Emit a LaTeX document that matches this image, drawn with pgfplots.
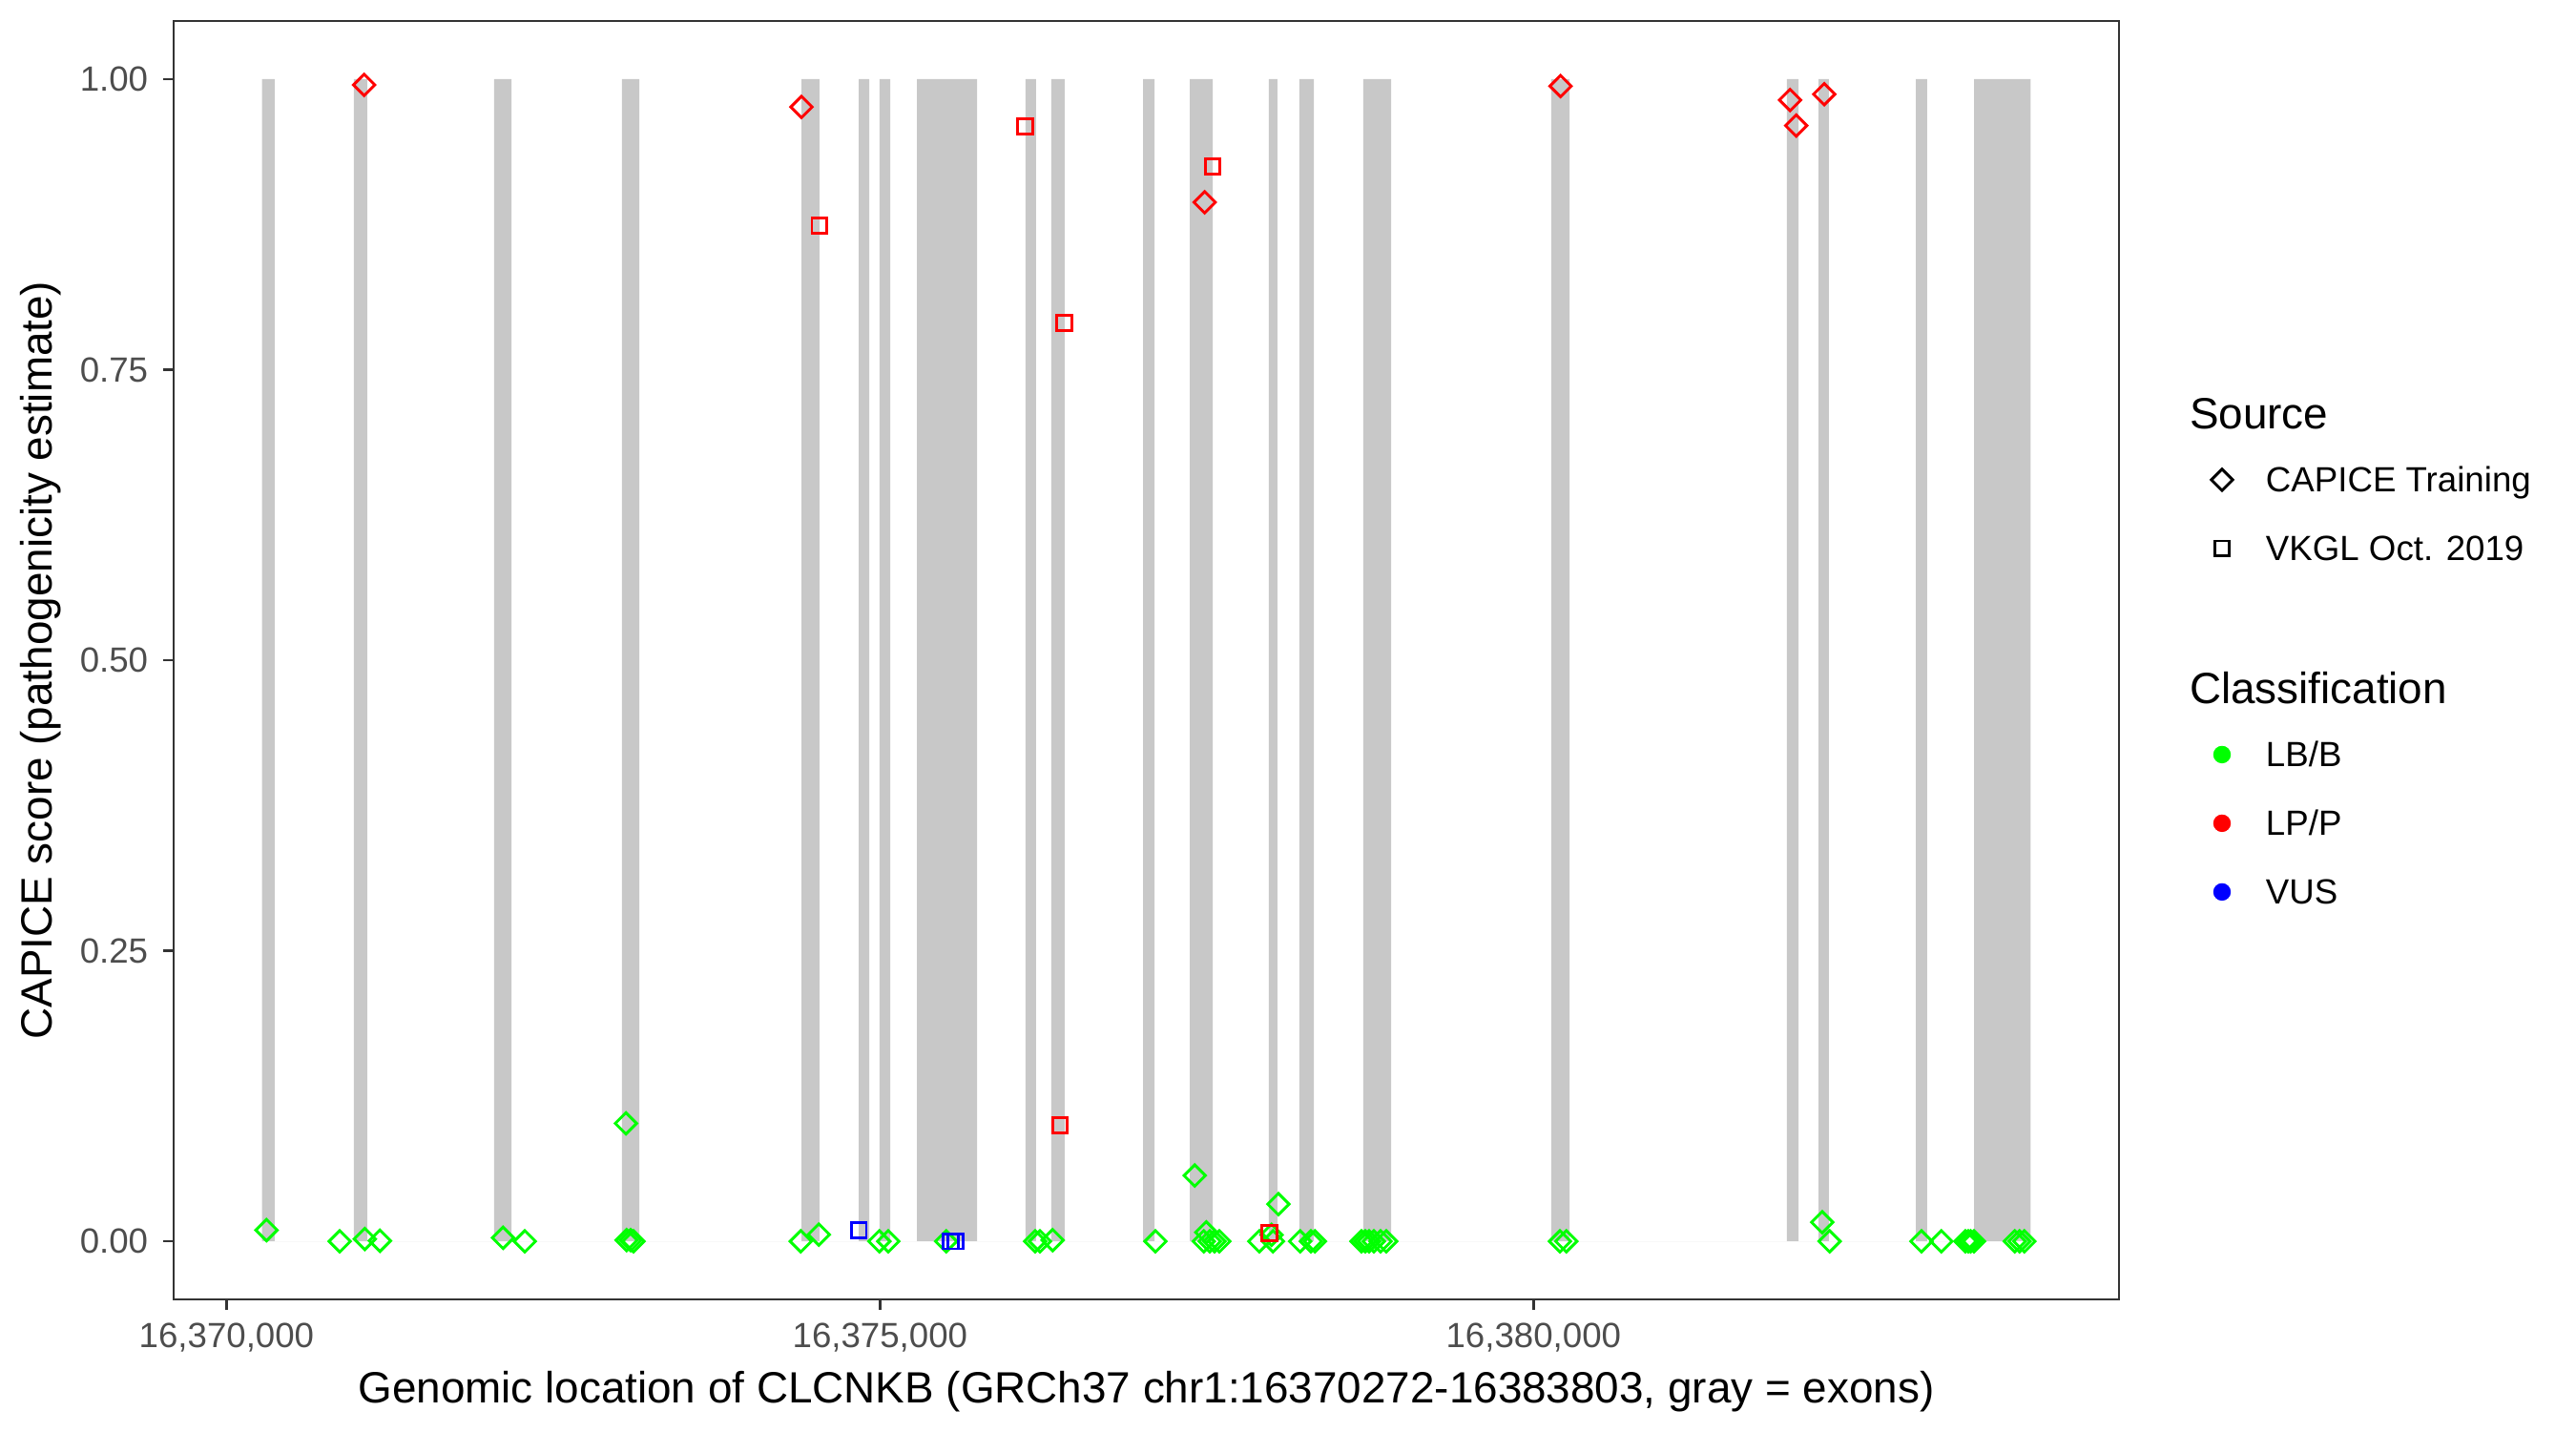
\documentclass[border=0pt]{standalone}
\usepackage{fontspec}
\setmainfont{Liberation Sans}
\usepackage{pgfplots}
\pgfplotsset{compat=1.18}
\usepackage{pgfplotstable}

\definecolor{exon}{RGB}{200,200,200}
\definecolor{lbb}{RGB}{0,255,0}
\definecolor{lpp}{RGB}{255,0,0}
\definecolor{vus}{RGB}{0,0,255}
\definecolor{gray20}{RGB}{51,51,51}
\definecolor{gray30}{RGB}{77,77,77}

% x = genomic position minus 16,370,000
% exons as a step function: 1 from exon start, 0 from exon end
\pgfplotstableread{
x y
272 1
369 0
975 1
1077 0
2048 1
2180 0
3026 1
3158 0
4399 1
4537 0
4837 1
4917 0
4997 1
5078 0
5282 1
5742 0
6114 1
6194 0
6311 1
6413 0
7012 1
7100 0
7370 1
7545 0
7975 1
8041 0
8209 1
8319 0
8698 1
8910 0
10136 1
10275 0
11939 1
12027 0
12180 1
12260 0
12925 1
13012 0
13370 1
13803 0
}\exons

% CAPICE training, LB/B
\pgfplotstableread{
x y
306 0.0096
866 0
1058 0.002
1174 0.0005
2116 0.003
2282 0
3056 0.1015
3061 0.001
3092 0.001
3114 0
4394 0
4532 0.0058
4995 0
5063 0
5506 0
6187 0
6224 0
6321 0.001
7107 0
7408 0.0566
7496 0.0077
7477 0
7523 0
7559 0
7596 0
7902 0
7995 0.0055
8007 0
8048 0.032
8214 0
8297 0
8328 0
8684 0
8713 0
8742 0
8778 0
8830 0
8873 0
10202 0
10251 0
12209 0.0164
12265 0
12968 0
13120 0
13304 0
13326 0
13344 0
13370 0
13682 0
13718 0
13755 0
}\capicelbb

% CAPICE training, LP/P
\pgfplotstableread{
x y
1053 0.995
4399 0.976
7484 0.894
10207 0.994
11963 0.982
12010 0.960
12224 0.987
}\capicelpp

% VKGL Oct. 2019, LP/P
\pgfplotstableread{
x y
4537 0.874
6109 0.959
6377 0.100
6411 0.790
7545 0.925
7981 0.0069
}\vkgllpp

% VKGL Oct. 2019, VUS
\pgfplotstableread{
x y
4837 0.0093
5542 0
5579 0
}\vkglvus

\pgfplotsset{
  diam/.style={mark=square, mark size=1.9pt, mark options={rotate=45, line width=0.7pt, fill=none}},
  sqr/.style={mark=square, mark size=1.9pt, mark options={line width=0.7pt, fill=none}},
  keydiam/.style={legend image code/.code={\path[draw=none, fill=none] (-6pt,-6pt) rectangle (6pt,11.28pt);
    \draw[black, line width=0.7pt, mark=square, mark size=1.9pt, mark options={rotate=45}] plot coordinates {(0pt,3.1pt)};}},
  keysqr/.style={legend image code/.code={\path[draw=none, fill=none] (-6pt,-6pt) rectangle (6pt,11.28pt);
    \draw[black, line width=0.7pt, mark=square, mark size=1.9pt] plot coordinates {(0pt,3.1pt)};}},
  keydot/.style={legend image code/.code={\path[draw=none, fill=none] (-6pt,-6pt) rectangle (6pt,11.28pt);
    \draw[#1, line width=0.2pt, mark=*, mark size=2.1pt] plot coordinates {(0pt,3.1pt)};}},
}

\begin{document}
\begin{tikzpicture}
\useasboundingbox (-43.68pt,-33.12pt) rectangle (604.32pt,326.88pt);
\begin{axis}[
  at={(0pt,0pt)}, anchor=south west,
  width=489.36pt, height=321.6pt, scale only axis,
  xmin=-404.5, xmax=14479.5, ymin=-0.05, ymax=1.05,
  axis line style={gray20, line width=0.65pt},
  tick align=outside, xtick pos=bottom, ytick pos=left,
  major tick length=2.75pt,
  every tick/.style={gray20, line width=0.65pt},
  minor tick num=0,
  scaled x ticks=false, scaled y ticks=false,
  xtick={0,5000,10000},
  xticklabels={{16,370,000},{16,375,000},{16,380,000}},
  ytick={0,0.25,0.5,0.75,1},
  yticklabels={0.00,0.25,0.50,0.75,1.00},
  /pgf/number format/assume math mode=true,
  ticklabel style={font=\fontsize{8.8}{10}\selectfont, text=gray30, inner sep=0pt},
  xticklabel style={yshift=-3pt},
  yticklabel style={xshift=-3.5pt},
  xlabel={Genomic location of CLCNKB (GRCh37 chr1:16370272-16383803, gray = exons)},
  ylabel={CAPICE score (pathogenicity estimate)},
  label style={font=\fontsize{11}{13}\selectfont, inner sep=0pt},
  xlabel style={at={(0.5,0)}, anchor=base, yshift=-25.92pt},
  ylabel style={at={(0,0.5)}, anchor=base, yshift=30.48pt},
  legend style={at={(1.0407,0.7158)}, anchor=north west, draw=none, fill=none,
    inner sep=0pt, outer sep=0pt, row sep=0pt, column sep=5.04pt,
    font=\fontsize{8.8}{10}\selectfont, cells={anchor=base west},
    nodes={inner sep=0pt, text height=11.28pt, text depth=6pt}},
]
% exons
\addplot[const plot, fill=exon, draw=none, forget plot] table {\exons} \closedcycle;

% variants
\addplot[only marks, forget plot, diam, lbb] table {\capicelbb};
\addplot[only marks, forget plot, diam, lpp] table {\capicelpp};
\addplot[only marks, forget plot, sqr, lpp] table {\vkgllpp};
\addplot[only marks, forget plot, sqr, vus] table {\vkglvus};

% legend
\addlegendimage{empty legend}
\addlegendentry[text depth=4.56pt]{\hspace*{-19.2pt}\fontsize{11}{13}\selectfont Source}
\addlegendimage{keydiam}
\addlegendentry{CAPICE Training}
\addlegendimage{keysqr}
\addlegendentry{VKGL Oct. 2019}
\addlegendimage{empty legend}
\addlegendentry[text height=12.72pt]{}
\addlegendimage{empty legend}
\addlegendentry[text depth=4.56pt]{\hspace*{-19.2pt}\fontsize{11}{13}\selectfont Classification}
\addlegendimage{keydot=lbb}
\addlegendentry{LB/B}
\addlegendimage{keydot=lpp}
\addlegendentry{LP/P}
\addlegendimage{keydot=vus}
\addlegendentry{VUS}
\end{axis}
\end{tikzpicture}
\end{document}
